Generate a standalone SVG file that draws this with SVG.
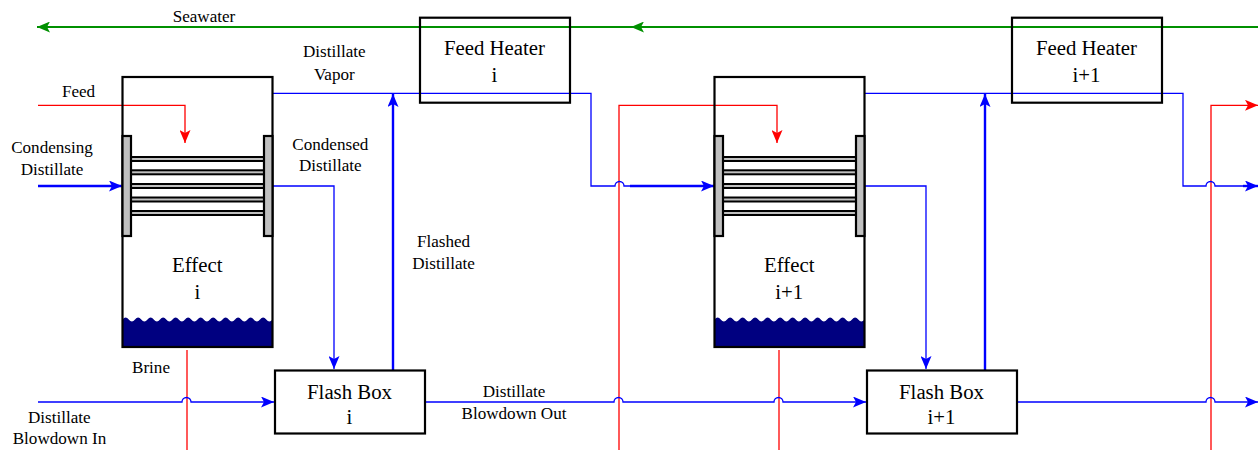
<svg xmlns="http://www.w3.org/2000/svg" xmlns:xlink="http://www.w3.org/1999/xlink" width="1258" height="450" viewBox="0 0 1258 450">
<style>
text{font-family:"Liberation Serif","Times New Roman",serif;fill:#000;text-anchor:middle}
.s{font-size:17.100px}.l{font-size:20.800px}
.box{fill:#fff;stroke:#000;stroke-width:2.200}
.open{fill:none;stroke:#000;stroke-width:2.200}
.sheet{fill:#c0c0c0;stroke:#000;stroke-width:2.200}
.tube{fill:#c0c0c0;stroke:#000;stroke-width:2}
.water{fill:#000080;stroke:none}
.b1{fill:none;stroke:#00f;stroke-width:1.300}
.b2{fill:none;stroke:#00f;stroke-width:2.400}
.r{fill:none;stroke:#f00;stroke-width:1.300}
.g{fill:none;stroke:#009000;stroke-width:2.200}
</style>
<defs>
<marker id="ab" markerUnits="userSpaceOnUse" markerWidth="14" markerHeight="11" refX="13" refY="5.500" orient="auto"><path d="M0 0L13 5.500L0 11L3 5.500Z" fill="#00f"/></marker>
<marker id="ar" markerUnits="userSpaceOnUse" markerWidth="14" markerHeight="11" refX="13" refY="5.500" orient="auto"><path d="M0 0L13 5.500L0 11L3 5.500Z" fill="#f00"/></marker>
<marker id="ag" markerUnits="userSpaceOnUse" markerWidth="14" markerHeight="11" refX="13" refY="5.500" orient="auto"><path d="M0 0L13 5.500L0 11L3 5.500Z" fill="#009000"/></marker>
<path id="wave" d="M0 31V4q3.100 -4 6.250 0t6.250 0q3.100 -4 6.250 0t6.250 0q3.100 -4 6.250 0t6.250 0q3.100 -4 6.250 0t6.250 0q3.100 -4 6.250 0t6.250 0q3.100 -4 6.250 0t6.250 0q3.100 -4 6.250 0t6.250 0q3.100 -4 6.250 0t6.250 0q3.100 -4 6.250 0t6.250 0q3.100 -4 6.250 0t6.250 0q3.100 -4 6.250 0t6.250 0q3.100 -4 6.250 0t6.250 0V31Z"/>
<g id="tubes">
<rect class="tube" x="131" y="157" width="133" height="4"/>
<rect class="tube" x="131" y="170.300" width="133" height="4"/>
<rect class="tube" x="131" y="184" width="133" height="4"/>
<rect class="tube" x="131" y="197.500" width="133" height="4"/>
<rect class="tube" x="131" y="211" width="133" height="4"/>
</g>
</defs>
<rect width="1258" height="450" fill="#fff"/>
<g id="connectors">
<path class="g" marker-end="url(#ag)" d="M631 27H37"/>
<path class="g" marker-end="url(#ag)" d="M1258 27H631"/>
<path class="r" marker-end="url(#ar)" d="M38 105.300H185V143"/>
<path class="r" marker-end="url(#ar)" d="M619 450V105.300H777V143"/>
<path class="r" marker-end="url(#ar)" d="M1211 450V105.300H1258"/>
<path class="r" d="M187 350V450"/>
<path class="r" d="M779 350V450"/>
<path class="b2" marker-end="url(#ab)" d="M38 186H122"/>
<path class="b1" d="M273 93.300H591V186H615a4.500 4.500 0 0 1 9 0H630"/>
<path class="b2" marker-end="url(#ab)" d="M630 186H714"/>
<path class="b1" d="M865 93.300H1183V186H1206a4.500 4.500 0 0 1 9 0H1243"/>
<path class="b2" marker-end="url(#ab)" d="M1243 186H1258"/>
<path class="b1" marker-end="url(#ab)" d="M273 186H334V369"/>
<path class="b1" marker-end="url(#ab)" d="M865 186H926V369"/>
<path class="b2" marker-end="url(#ab)" d="M393 370V94"/>
<path class="b2" marker-end="url(#ab)" d="M985 370V94"/>
<path class="b1" marker-end="url(#ab)" d="M38 402H182a4.500 4.500 0 0 1 9 0H274"/>
<path class="b1" marker-end="url(#ab)" d="M426 402H614a4.500 4.500 0 0 1 9 0H774a4.500 4.500 0 0 1 9 0H866"/>
<path class="b1" marker-end="url(#ab)" d="M1018 402H1206a4.500 4.500 0 0 1 9 0H1258"/>
</g>
<g id="effect-i">
<use href="#wave" class="water" x="122.500" y="315.500"/>
<rect x="122.500" y="77" width="150" height="270" fill="none" stroke="#000" stroke-width="2.200"/>
<use href="#tubes"/>
<rect class="sheet" x="122.500" y="136" width="8.500" height="100"/>
<rect class="sheet" x="264" y="136" width="8.500" height="100"/>
<text class="l" x="197.300" y="272">Effect</text>
<text class="l" x="197.300" y="299">i</text>
</g>
<g id="effect-i1">
<use href="#wave" class="water" x="714.500" y="315.500"/>
<rect x="714.500" y="77" width="150" height="270" fill="none" stroke="#000" stroke-width="2.200"/>
<use href="#tubes" x="592"/>
<rect class="sheet" x="714.500" y="136" width="8.500" height="100"/>
<rect class="sheet" x="856" y="136" width="8.500" height="100"/>
<text class="l" x="789.300" y="272">Effect</text>
<text class="l" x="789.300" y="299">i+1</text>
</g>
<g id="heater-i">
<rect class="open" x="420" y="17.700" width="150" height="85"/>
<text class="l" x="494.500" y="55">Feed Heater</text>
<text class="l" x="494.500" y="82">i</text>
</g>
<g id="heater-i1">
<rect class="open" x="1012" y="17.700" width="150" height="85"/>
<text class="l" x="1086.500" y="55">Feed Heater</text>
<text class="l" x="1086.500" y="82">i+1</text>
</g>
<g id="flash-i">
<rect class="box" x="275" y="370.500" width="150" height="63"/>
<text class="l" x="349.500" y="399">Flash Box</text>
<text class="l" x="349.500" y="424">i</text>
</g>
<g id="flash-i1">
<rect class="box" x="867" y="370.500" width="150" height="63"/>
<text class="l" x="941.500" y="399">Flash Box</text>
<text class="l" x="941.500" y="424">i+1</text>
</g>
<g id="labels">
<text class="s" x="204" y="22">Seawater</text>
<text class="s" x="334.300" y="57">Distillate</text>
<text class="s" x="334.300" y="79.500">Vapor</text>
<text class="s" x="78.500" y="97">Feed</text>
<text class="s" x="52" y="153">Condensing</text>
<text class="s" x="52" y="175">Distillate</text>
<text class="s" x="330.300" y="149.500">Condensed</text>
<text class="s" x="330.300" y="171">Distillate</text>
<text class="s" x="443.500" y="246.700">Flashed</text>
<text class="s" x="443.500" y="268.700">Distillate</text>
<text class="s" x="151" y="373">Brine</text>
<text class="s" x="59.300" y="423">Distillate</text>
<text class="s" x="59.500" y="444">Blowdown In</text>
<text class="s" x="514" y="397">Distillate</text>
<text class="s" x="514" y="419">Blowdown Out</text>
</g>
</svg>
